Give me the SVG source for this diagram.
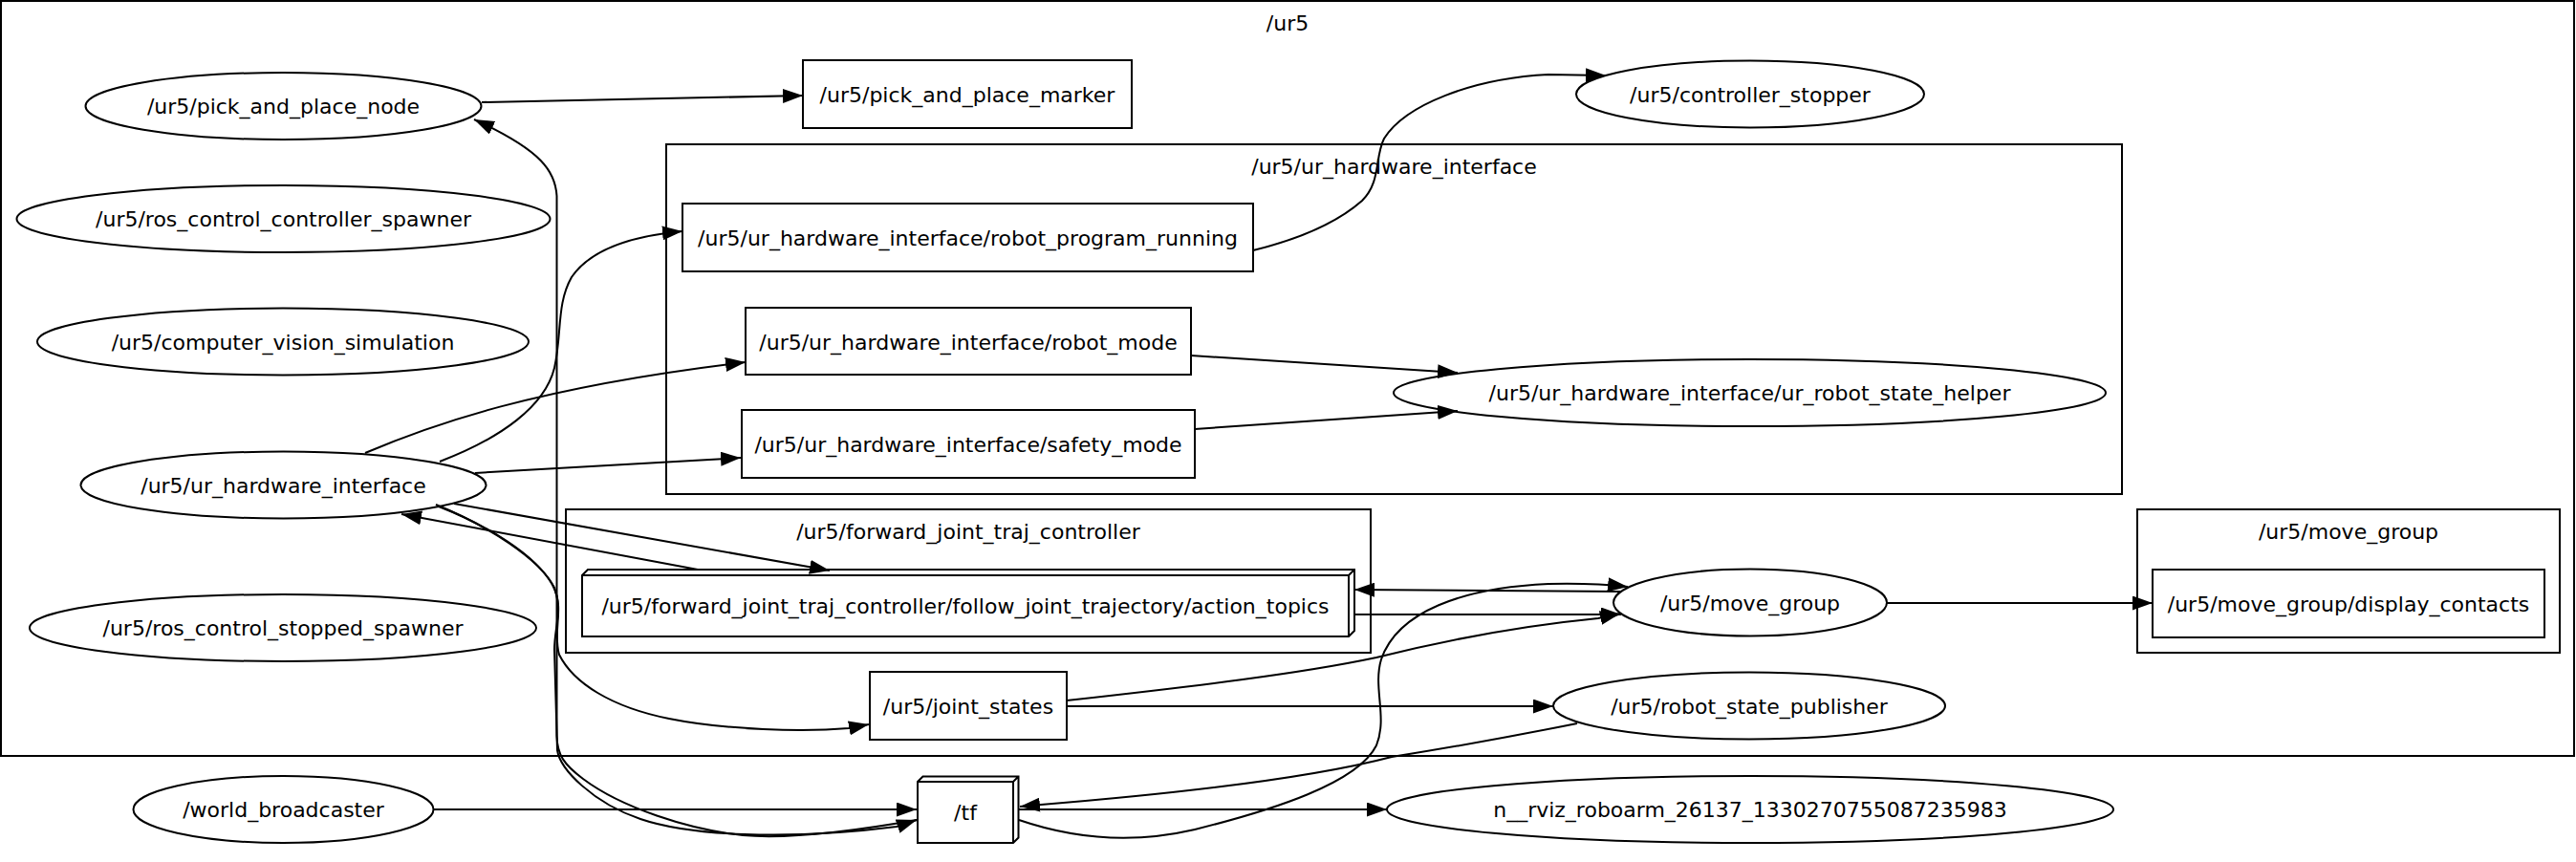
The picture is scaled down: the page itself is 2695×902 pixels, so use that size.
<svg xmlns="http://www.w3.org/2000/svg" width="2695" height="902" viewBox="0 0 2695 902">
<style>
text{font-family:"DejaVu Sans","Liberation Sans",sans-serif;font-size:22px;fill:#000;text-anchor:middle}
.sh{fill:none;stroke:#000;stroke-width:2}
.cl{fill:none;stroke:#000;stroke-width:2}
.e{fill:none;stroke:#000;stroke-width:2;marker-end:url(#ah)}
.en{fill:none;stroke:#000;stroke-width:2}
</style>
<defs>
<marker id="ah" markerUnits="userSpaceOnUse" markerWidth="21" markerHeight="15" refX="21" refY="7.5" orient="auto"><path d="M0,0 L21,7.5 L0,15 z" fill="#000"/></marker>
</defs>
<rect x="0" y="0" width="2695" height="902" fill="#fff"/>
<g id="clusters">
<g id="cluster_ur5"><rect class="cl" x="1" y="1" width="2692" height="790"/><text x="1347" y="32">/ur5</text></g>
<g id="cluster_ur_hw"><rect class="cl" x="697" y="151" width="1523" height="366"/><text x="1458.5" y="182">/ur5/ur_hardware_interface</text></g>
<g id="cluster_fjtc"><rect class="cl" x="592" y="533" width="842" height="150"/><text x="1013" y="564">/ur5/forward_joint_traj_controller</text></g>
<g id="cluster_move_group"><rect class="cl" x="2236" y="533" width="442" height="150"/><text x="2457" y="564">/ur5/move_group</text></g>
</g>
<g id="connectors">
<path class="e" d="M504,107 L840,100"/>
<path class="e" d="M460,483 C525,458 570,425 580,385 C588,350 582,318 598,290 C620,258 670,246 714,242"/>
<path class="e" d="M959,858 C880,872 820,878 777,874 C720,868 650,845 610,815 C590,800 583,790 582.5,770 L582.5,205 C581,180 568,158 496,125"/>
<path class="e" d="M459,530 C510,550 560,580 578,612 C590,635 580,655 580,680 L583,785 C586,805 620,840 670,857 C720,874 820,880 938,865 L959,858"/>
<path class="e" d="M456,528 C510,550 565,585 580,615 C590,640 578,660 585,685 C600,715 640,740 700,752 C760,764 840,766 888,762 L909,758"/>
<path class="e" d="M382,474 C450,445 560,405 780,379"/>
<path class="e" d="M497,495 L775,479"/>
<path class="e" d="M475,527 L868,597"/>
<path class="e" d="M730,596 L420,538"/>
<path class="e" d="M1311,262 C1360,250 1400,232 1425,210 C1445,190 1438,165 1448,145 C1470,110 1540,82 1620,78 L1680,79"/>
<path class="e" d="M1246,372 L1525,390"/>
<path class="e" d="M1250,449 L1525,430"/>
<path class="e" d="M1417,643 L1696,643"/>
<path class="e" d="M1696,619 L1417,617"/>
<path class="e" d="M1116,733 C1250,718 1360,705 1440,688 C1520,668 1600,654 1672,647 L1695,642"/>
<path class="e" d="M1116,739 L1625,739"/>
<path class="e" d="M1650,757 C1560,775 1500,785 1456,792 C1380,812 1260,828 1089,842 L1067,844"/>
<path class="e" d="M1066,847 L1451,847"/>
<path class="e" d="M1066,858 C1130,880 1190,882 1250,868 C1330,848 1420,820 1440,780 C1452,750 1436,720 1445,690 C1462,640 1530,615 1620,611 C1660,610 1685,612 1703,614"/>
<path class="e" d="M1974,631 L2252,631"/>
<path class="e" d="M453,847 L959,847"/>
</g>
<g id="n_pick_and_place_node"><ellipse class="sh" cx="296.5" cy="111" rx="207" ry="35"/><text x="296.5" y="119">/ur5/pick_and_place_node</text></g>
<g id="n_ros_control_controller_spawner"><ellipse class="sh" cx="296.5" cy="229" rx="279" ry="35"/><text x="296.5" y="237">/ur5/ros_control_controller_spawner</text></g>
<g id="n_computer_vision_simulation"><ellipse class="sh" cx="296" cy="357.5" rx="257" ry="35"/><text x="296" y="366">/ur5/computer_vision_simulation</text></g>
<g id="n_ur_hardware_interface"><ellipse class="sh" cx="296.5" cy="507.5" rx="212" ry="35"/><text x="296.5" y="516">/ur5/ur_hardware_interface</text></g>
<g id="n_ros_control_stopped_spawner"><ellipse class="sh" cx="296" cy="657" rx="265" ry="35"/><text x="296" y="665">/ur5/ros_control_stopped_spawner</text></g>
<g id="n_world_broadcaster"><ellipse class="sh" cx="296.5" cy="847" rx="157" ry="35"/><text x="296.5" y="855">/world_broadcaster</text></g>
<g id="n_pick_and_place_marker"><rect class="sh" x="840" y="63" width="344" height="71"/><text x="1012" y="107">/ur5/pick_and_place_marker</text></g>
<g id="n_robot_program_running"><rect class="sh" x="714" y="213" width="597" height="71"/><text x="1012.5" y="257">/ur5/ur_hardware_interface/robot_program_running</text></g>
<g id="n_robot_mode"><rect class="sh" x="780" y="322" width="466" height="70"/><text x="1013" y="365.5">/ur5/ur_hardware_interface/robot_mode</text></g>
<g id="n_safety_mode"><rect class="sh" x="776" y="429" width="474" height="71"/><text x="1013" y="473">/ur5/ur_hardware_interface/safety_mode</text></g>
<g id="n_ur_robot_state_helper"><ellipse class="sh" cx="1830.5" cy="411" rx="372.5" ry="35"/><text x="1830.5" y="419">/ur5/ur_hardware_interface/ur_robot_state_helper</text></g>
<g id="n_controller_stopper"><ellipse class="sh" cx="1831" cy="98.5" rx="182" ry="35"/><text x="1831" y="107">/ur5/controller_stopper</text></g>
<g id="n_action_topics"><path class="sh" d="M609,602 L615,596 L1417,596 L1417,660 L1411,666 L609,666 Z M609,602 L1411,602 L1417,596 M1411,602 L1411,666"/><text x="1010" y="642">/ur5/forward_joint_traj_controller/follow_joint_trajectory/action_topics</text></g>
<g id="n_joint_states"><rect class="sh" x="910" y="703" width="206" height="71"/><text x="1013" y="747">/ur5/joint_states</text></g>
<g id="n_move_group"><ellipse class="sh" cx="1831" cy="630.5" rx="143" ry="35"/><text x="1831" y="639">/ur5/move_group</text></g>
<g id="n_display_contacts"><rect class="sh" x="2252" y="596" width="410" height="71"/><text x="2457" y="640">/ur5/move_group/display_contacts</text></g>
<g id="n_robot_state_publisher"><ellipse class="sh" cx="1830" cy="738.5" rx="205" ry="35"/><text x="1830" y="747">/ur5/robot_state_publisher</text></g>
<g id="n_tf"><path class="sh" d="M960,818 L965.5,812.5 L1065.5,812.5 L1065.5,876.5 L1060,882 L960,882 Z M960,818 L1060,818 L1065.5,812.5 M1060,818 L1060,882"/><text x="1010" y="858">/tf</text></g>
<g id="n_rviz"><ellipse class="sh" cx="1831" cy="847" rx="380" ry="35"/><text x="1831" y="855">n__rviz_roboarm_26137_1330270755087235983</text></g>
</svg>
